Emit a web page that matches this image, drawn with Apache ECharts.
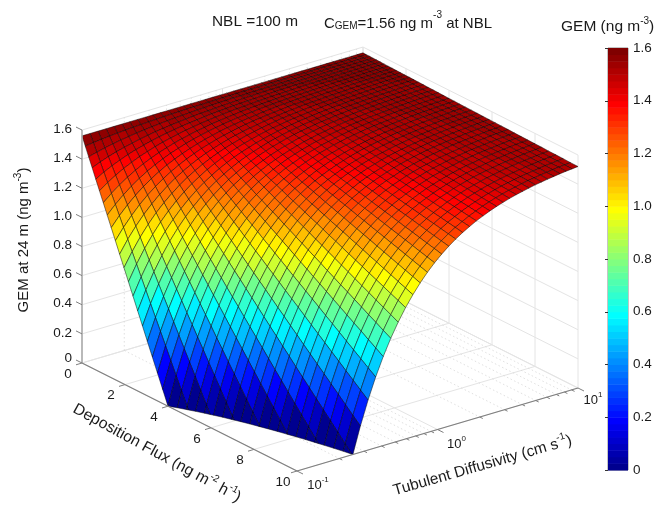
<!DOCTYPE html>
<html>
<head>
<meta charset="utf-8">
<style>html,body{margin:0;padding:0;background:#fff}#c{width:658px;height:505px}</style>
<script src="https://cdn.jsdelivr.net/npm/echarts@6/dist/echarts.min.js"></script>
</head>
<body>
<div id="c"></div>
<script>
// Deposition flux values (ng m-2 h-1), one per mesh row
const fluxValues = [0,.1525,.31,.4725,.64,.8125,.99,1.1725,1.36,1.5525,1.75,1.9525,2.16,2.3725,2.59,2.8125,3.04,3.2725,3.51,3.7525,4,4.2525,4.51,4.7725,5.04,5.3125,5.59,5.8725,6.16,6.4525,6.75,7.0525,7.36,7.6725,7.99,8.3125,8.64,8.9725,9.31,9.6525,10];
// log10 of turbulent diffusivity (cm s-1), one per mesh column
const logDiffusivity = [-1,-.9422,-.8848,-.8278,-.7712,-.715,-.6592,-.6038,-.5488,-.4942,-.44,-.3862,-.3328,-.2798,-.2272,-.175,-.1232,-.0718,-.0208,.0298,.08,.1298,.1792,.2282,.2768,.325,.3728,.4202,.4672,.5138,.56,.6058,.6512,.6962,.7408,.785,.8288,.8722,.9152,.9578,1];
// GEM at 24 m (ng m-3): gemGrid[diffusivity index][flux index]. Rows stop once the surface is under the floor.
const gemGrid = [
[1.56,1.501,1.439,1.376,1.310,1.243,1.174,1.103,1.030,.955,.877,.799,.718,.635,.550,.463,.374,.284,.191,.097,0,-.098,-.199,-.301],
[1.56,1.508,1.454,1.399,1.342,1.283,1.222,1.160,1.096,1.030,.963,.893,.823,.750,.676,.600,.522,.443,.362,.279,.194,.108,.020,-.069,-.161,-.254],
[1.56,1.514,1.467,1.419,1.369,1.317,1.264,1.209,1.153,1.095,1.036,.976,.914,.850,.785,.718,.650,.581,.510,.437,.363,.288,.211,.132,.052,-.030,-.113,-.197,-.283],
[1.56,1.520,1.479,1.436,1.392,1.347,1.300,1.252,1.203,1.153,1.101,1.048,.993,.937,.880,.822,.762,.701,.639,.575,.510,.444,.377,.308,.238,.166,.093,.019,-.056,-.133,-.211,-.291],
[1.56,1.525,1.489,1.451,1.413,1.373,1.332,1.290,1.247,1.203,1.157,1.111,1.063,1.014,.964,.913,.860,.807,.752,.696,.639,.581,.522,.461,.400,.337,.273,.208,.142,.075,.006,-.063,-.134,-.206,-.279],
[1.56,1.529,1.497,1.464,1.431,1.396,1.360,1.323,1.285,1.246,1.206,1.165,1.123,1.080,1.036,.991,.945,.898,.850,.801,.751,.700,.648,.595,.540,.485,.429,.372,.314,.255,.194,.133,.071,.008,-.056,-.122,-.188,-.255],
[1.56,1.533,1.505,1.476,1.446,1.415,1.384,1.351,1.318,1.284,1.248,1.212,1.176,1.138,1.099,1.059,1.019,.977,.935,.892,.848,.803,.757,.710,.663,.614,.565,.515,.464,.411,.358,.305,.250,.194,.138,.080,.022,-.037,-.097,-.158,-.220],
[1.56,1.536,1.511,1.486,1.460,1.433,1.405,1.376,1.347,1.317,1.286,1.254,1.222,1.188,1.154,1.120,1.084,1.048,1.010,.972,.934,.894,.854,.813,.771,.728,.685,.640,.595,.550,.503,.456,.407,.358,.309,.258,.207,.155,.102,.048,-.006],
[1.56,1.539,1.517,1.495,1.472,1.448,1.423,1.398,1.372,1.346,1.318,1.291,1.262,1.233,1.203,1.172,1.140,1.108,1.076,1.042,1.008,.973,.938,.901,.864,.827,.789,.750,.710,.670,.628,.587,.544,.501,.457,.413,.368,.322,.275,.228,.18],
[1.56,1.541,1.522,1.502,1.482,1.461,1.440,1.417,1.394,1.371,1.347,1.322,1.297,1.271,1.245,1.218,1.190,1.162,1.133,1.103,1.073,1.042,1.011,.979,.947,.913,.880,.845,.810,.775,.739,.702,.664,.626,.588,.548,.509,.468,.427,.385,.343],
[1.56,1.544,1.527,1.509,1.491,1.473,1.454,1.434,1.414,1.393,1.372,1.350,1.328,1.305,1.282,1.258,1.234,1.209,1.183,1.157,1.130,1.103,1.076,1.047,1.019,.989,.960,.929,.898,.867,.835,.803,.770,.736,.702,.667,.632,.596,.560,.523,.486],
[1.56,1.546,1.531,1.515,1.499,1.483,1.466,1.449,1.431,1.413,1.394,1.375,1.355,1.335,1.314,1.293,1.272,1.249,1.227,1.204,1.180,1.156,1.132,1.107,1.082,1.056,1.030,1.003,.975,.948,.919,.891,.862,.832,.802,.771,.740,.709,.676,.644,.611],
[1.56,1.547,1.534,1.520,1.506,1.492,1.477,1.462,1.446,1.430,1.413,1.396,1.379,1.361,1.343,1.324,1.305,1.285,1.266,1.245,1.224,1.203,1.182,1.160,1.137,1.114,1.091,1.067,1.043,1.019,.994,.968,.942,.916,.890,.863,.835,.807,.779,.750,.721],
[1.56,1.549,1.537,1.525,1.512,1.500,1.486,1.473,1.459,1.445,1.430,1.415,1.400,1.384,1.368,1.351,1.334,1.317,1.299,1.281,1.263,1.244,1.225,1.205,1.186,1.165,1.145,1.124,1.102,1.081,1.058,1.036,1.013,.990,.966,.942,.918,.893,.868,.843,.817],
[1.56,1.550,1.540,1.529,1.518,1.507,1.495,1.483,1.471,1.458,1.445,1.432,1.418,1.404,1.390,1.375,1.360,1.345,1.329,1.313,1.297,1.280,1.263,1.246,1.228,1.210,1.192,1.174,1.155,1.135,1.116,1.096,1.076,1.055,1.034,1.013,.991,.970,.947,.925,.902],
[1.56,1.551,1.542,1.532,1.523,1.513,1.502,1.492,1.481,1.469,1.458,1.446,1.434,1.421,1.409,1.396,1.382,1.369,1.355,1.341,1.326,1.312,1.297,1.281,1.266,1.250,1.234,1.217,1.200,1.183,1.166,1.148,1.130,1.112,1.093,1.075,1.055,1.036,1.016,.996,.976],
[1.56,1.552,1.544,1.536,1.527,1.518,1.509,1.499,1.490,1.480,1.469,1.459,1.448,1.437,1.426,1.414,1.403,1.390,1.378,1.366,1.353,1.340,1.326,1.313,1.299,1.285,1.270,1.256,1.241,1.226,1.210,1.195,1.179,1.163,1.146,1.129,1.112,1.095,1.078,1.060,1.042],
[1.56,1.553,1.546,1.538,1.531,1.523,1.514,1.506,1.497,1.489,1.479,1.470,1.461,1.451,1.441,1.431,1.420,1.409,1.399,1.387,1.376,1.364,1.353,1.340,1.328,1.316,1.303,1.290,1.277,1.263,1.249,1.236,1.221,1.207,1.192,1.178,1.163,1.147,1.132,1.116,1.100],
[1.56,1.554,1.547,1.541,1.534,1.527,1.520,1.512,1.504,1.497,1.488,1.480,1.472,1.463,1.454,1.445,1.436,1.426,1.416,1.407,1.396,1.386,1.376,1.365,1.354,1.343,1.331,1.320,1.308,1.296,1.284,1.272,1.259,1.246,1.233,1.220,1.207,1.193,1.179,1.165,1.151],
[1.56,1.554,1.549,1.543,1.537,1.530,1.524,1.517,1.510,1.503,1.496,1.489,1.481,1.474,1.466,1.458,1.449,1.441,1.432,1.423,1.414,1.405,1.396,1.386,1.377,1.367,1.357,1.346,1.336,1.325,1.314,1.303,1.292,1.281,1.269,1.257,1.246,1.233,1.221,1.209,1.196],
[1.56,1.555,1.550,1.545,1.539,1.534,1.528,1.522,1.516,1.510,1.503,1.497,1.490,1.483,1.476,1.469,1.462,1.454,1.446,1.438,1.430,1.422,1.414,1.405,1.397,1.388,1.379,1.370,1.360,1.351,1.341,1.331,1.322,1.311,1.301,1.291,1.280,1.269,1.258,1.247,1.236],
[1.56,1.556,1.551,1.546,1.542,1.537,1.531,1.526,1.521,1.515,1.509,1.504,1.498,1.491,1.485,1.479,1.472,1.465,1.459,1.452,1.444,1.437,1.430,1.422,1.414,1.406,1.398,1.390,1.382,1.374,1.365,1.356,1.347,1.338,1.329,1.320,1.310,1.301,1.291,1.281,1.271],
[1.56,1.556,1.552,1.548,1.543,1.539,1.534,1.530,1.525,1.520,1.515,1.510,1.504,1.499,1.493,1.487,1.482,1.476,1.469,1.463,1.457,1.450,1.444,1.437,1.430,1.423,1.416,1.408,1.401,1.394,1.386,1.378,1.370,1.362,1.354,1.346,1.337,1.329,1.320,1.311,1.302],
[1.56,1.556,1.553,1.549,1.545,1.541,1.537,1.533,1.529,1.524,1.520,1.515,1.510,1.505,1.500,1.495,1.490,1.484,1.479,1.473,1.468,1.462,1.456,1.450,1.444,1.437,1.431,1.424,1.418,1.411,1.404,1.397,1.390,1.383,1.375,1.368,1.360,1.353,1.345,1.337,1.329],
[1.56,1.557,1.554,1.550,1.547,1.543,1.540,1.536,1.532,1.528,1.524,1.520,1.516,1.511,1.507,1.502,1.497,1.493,1.488,1.483,1.478,1.472,1.467,1.462,1.456,1.451,1.445,1.439,1.433,1.427,1.421,1.415,1.408,1.402,1.395,1.389,1.382,1.375,1.368,1.361,1.354],
[1.56,1.557,1.554,1.551,1.548,1.545,1.542,1.538,1.535,1.531,1.528,1.524,1.520,1.516,1.512,1.508,1.504,1.499,1.495,1.491,1.486,1.481,1.477,1.472,1.467,1.462,1.457,1.451,1.446,1.441,1.435,1.430,1.424,1.418,1.412,1.406,1.400,1.394,1.388,1.381,1.375],
[1.56,1.557,1.555,1.552,1.549,1.547,1.544,1.541,1.538,1.534,1.531,1.528,1.524,1.521,1.517,1.514,1.510,1.506,1.502,1.498,1.494,1.490,1.486,1.481,1.477,1.472,1.468,1.463,1.458,1.454,1.449,1.444,1.439,1.433,1.428,1.423,1.417,1.412,1.406,1.401,1.395],
[1.56,1.558,1.555,1.553,1.551,1.548,1.545,1.543,1.540,1.537,1.534,1.531,1.528,1.525,1.522,1.518,1.515,1.512,1.508,1.504,1.501,1.497,1.493,1.489,1.485,1.481,1.477,1.473,1.469,1.465,1.460,1.456,1.451,1.446,1.442,1.437,1.432,1.427,1.422,1.417,1.412],
[1.56,1.558,1.556,1.554,1.551,1.549,1.547,1.544,1.542,1.539,1.537,1.534,1.531,1.528,1.526,1.523,1.520,1.516,1.513,1.510,1.507,1.503,1.500,1.497,1.493,1.489,1.486,1.482,1.478,1.474,1.470,1.466,1.462,1.458,1.454,1.449,1.445,1.441,1.436,1.432,1.427],
[1.56,1.558,1.556,1.554,1.552,1.550,1.548,1.546,1.544,1.542,1.539,1.537,1.534,1.532,1.529,1.527,1.524,1.521,1.518,1.515,1.512,1.509,1.506,1.503,1.500,1.497,1.493,1.490,1.487,1.483,1.480,1.476,1.472,1.469,1.465,1.461,1.457,1.453,1.449,1.445,1.441],
[1.56,1.558,1.557,1.555,1.553,1.551,1.549,1.547,1.545,1.543,1.541,1.539,1.537,1.535,1.532,1.530,1.527,1.525,1.522,1.520,1.517,1.514,1.512,1.509,1.506,1.503,1.500,1.497,1.494,1.491,1.488,1.485,1.481,1.478,1.475,1.471,1.468,1.464,1.460,1.457,1.453],
[1.56,1.559,1.557,1.555,1.554,1.552,1.550,1.549,1.547,1.545,1.543,1.541,1.539,1.537,1.535,1.533,1.531,1.528,1.526,1.524,1.521,1.519,1.516,1.514,1.511,1.508,1.506,1.503,1.500,1.497,1.495,1.492,1.489,1.486,1.482,1.479,1.476,1.473,1.470,1.466,1.463],
[1.56,1.559,1.557,1.556,1.554,1.553,1.551,1.550,1.548,1.546,1.545,1.543,1.541,1.539,1.537,1.536,1.534,1.532,1.529,1.527,1.525,1.523,1.521,1.518,1.516,1.514,1.511,1.509,1.506,1.504,1.501,1.499,1.496,1.493,1.491,1.488,1.485,1.482,1.479,1.476,1.473],
[1.56,1.559,1.558,1.556,1.555,1.554,1.552,1.551,1.549,1.548,1.546,1.545,1.543,1.541,1.540,1.538,1.536,1.534,1.533,1.531,1.529,1.527,1.525,1.523,1.521,1.519,1.516,1.514,1.512,1.510,1.507,1.505,1.503,1.500,1.498,1.495,1.493,1.490,1.487,1.485,1.482],
[1.56,1.559,1.558,1.557,1.555,1.554,1.553,1.552,1.550,1.549,1.548,1.546,1.545,1.543,1.542,1.540,1.538,1.537,1.535,1.533,1.532,1.530,1.528,1.526,1.524,1.522,1.520,1.518,1.516,1.514,1.512,1.510,1.508,1.506,1.503,1.501,1.499,1.496,1.494,1.491,1.489],
[1.56,1.559,1.558,1.557,1.556,1.555,1.554,1.552,1.551,1.550,1.549,1.548,1.546,1.545,1.543,1.542,1.541,1.539,1.538,1.536,1.534,1.533,1.531,1.529,1.528,1.526,1.524,1.522,1.521,1.519,1.517,1.515,1.513,1.511,1.509,1.507,1.505,1.503,1.500,1.498,1.496],
[1.56,1.559,1.558,1.557,1.556,1.555,1.554,1.553,1.552,1.551,1.550,1.549,1.547,1.546,1.545,1.544,1.542,1.541,1.540,1.538,1.537,1.535,1.534,1.532,1.531,1.529,1.528,1.526,1.524,1.523,1.521,1.519,1.517,1.515,1.514,1.512,1.510,1.508,1.506,1.504,1.502],
[1.56,1.559,1.558,1.558,1.557,1.556,1.555,1.554,1.553,1.552,1.551,1.550,1.549,1.548,1.547,1.545,1.544,1.543,1.542,1.540,1.539,1.538,1.537,1.535,1.534,1.532,1.531,1.529,1.528,1.526,1.525,1.523,1.522,1.520,1.518,1.517,1.515,1.513,1.512,1.510,1.508],
[1.56,1.559,1.559,1.558,1.557,1.556,1.555,1.554,1.554,1.553,1.552,1.551,1.550,1.549,1.548,1.547,1.546,1.545,1.544,1.542,1.541,1.540,1.539,1.538,1.536,1.535,1.534,1.532,1.531,1.530,1.528,1.527,1.525,1.524,1.522,1.521,1.519,1.518,1.516,1.515,1.513],
[1.56,1.559,1.559,1.558,1.557,1.557,1.556,1.555,1.554,1.553,1.552,1.552,1.551,1.550,1.549,1.548,1.547,1.546,1.545,1.544,1.543,1.542,1.541,1.539,1.538,1.537,1.536,1.535,1.534,1.532,1.531,1.530,1.528,1.527,1.526,1.524,1.523,1.521,1.520,1.518,1.517],
[1.56,1.559,1.559,1.558,1.558,1.557,1.556,1.555,1.555,1.554,1.553,1.552,1.552,1.551,1.550,1.549,1.548,1.547,1.546,1.545,1.544,1.543,1.542,1.541,1.540,1.539,1.538,1.537,1.536,1.535,1.534,1.532,1.531,1.530,1.529,1.528,1.526,1.525,1.524,1.522,1.521]
];
// Axis ticks
const zTicks = [0,.2,.4,.6,.8,1,1.2,1.4,1.6];
const zTickLabels = ['0','0.2','0.4','0.6','0.8','1.0','1.2','1.4','1.6'];
const fluxTicks = [0,2,4,6,8,10];
const diffusivityMajorTicks = [-1,0,1];
const diffusivityMajorLabels = ['{m|10}{s|-1}','{m|10}{s|0}','{m|10}{s|1}'];
const diffusivityMinorTicks = [.2,.3,.4,.5,.6,.7,.8,.9,2,3,4,5,6,7,8,9];

const FONT = '"Liberation Sans", Arial, sans-serif';
const INK = '#1a1a1a';
const GRID = '#e4e4e4';

// Orthographic view of the box
const view = {ox:82, oy:363, fx:21.5, fy:10.8, tx:281, ty:-83, zy:145.6};
const logToT = v => (v + 1) / 2;
function project(F, t, z){ return [view.ox + F*view.fx + t*view.tx, view.oy + F*view.fy + t*view.ty - z*view.zy]; }

// MATLAB jet, 64 levels
function jet64(){
  const c = Array.from({length:64},()=>[0,0,0]), u=[];
  for(let k=1;k<=16;k++)u.push(k/16);
  for(let k=0;k<15;k++)u.push(1);
  for(let k=16;k>=1;k--)u.push(k/16);
  u.forEach((v,k)=>{
    const r=25+k,g=9+k,b=-7+k;
    if(r<=64)c[r-1][0]=v;
    if(g<=64)c[g-1][1]=v;
    if(b>=1)c[b-1][2]=v;
  });
  return c.map(a=>'rgb('+a.map(x=>Math.round(x*255)).join(',')+')');
}
const JET = jet64();
const CMAX = 1.6;
function colorOf(v){ return JET[Math.max(0,Math.min(63,Math.floor(v/CMAX*64)))]; }

// Surface cells, painted from the far corner to the near one
const cells = [];
for(let j=gemGrid.length-1;j>=1;j--){
  for(let i=0;i<fluxValues.length-1;i++){
    if(gemGrid[j-1][i+1]!==undefined && gemGrid[j][i+1]!==undefined) cells.push([j-1,i]);
  }
}
function clipFloor(vs){
  const out=[];
  for(let k=0;k<vs.length;k++){
    const a=vs[k], b=vs[(k+1)%vs.length];
    if(a[2]>=0) out.push(a);
    if((a[2]>=0)!==(b[2]>=0)){
      const s=a[2]/(a[2]-b[2]);
      out.push([a[0]+(b[0]-a[0])*s,a[1]+(b[1]-a[1])*s,0]);
    }
  }
  return out;
}
function renderCell(params, api){
  const j=api.value(0), i=api.value(1);
  const t0=logToT(logDiffusivity[j]), t1=logToT(logDiffusivity[j+1]);
  const F0=fluxValues[i], F1=fluxValues[i+1];
  const poly=clipFloor([
    [F0,t0,gemGrid[j][i]],[F1,t0,gemGrid[j][i+1]],
    [F1,t1,gemGrid[j+1][i+1]],[F0,t1,gemGrid[j+1][i]]]);
  if(poly.length<3) return null;
  return {type:'polygon',shape:{points:poly.map(v=>api.coord(project(v[0],v[1],v[2])))},
    style:{fill:colorOf(gemGrid[j][i]),stroke:'rgba(0,0,0,0.68)',lineWidth:0.7}};
}

function line(api,a,b,stroke,w,dash){
  const p=api.coord(a), q=api.coord(b);
  return {type:'line',shape:{x1:p[0],y1:p[1],x2:q[0],y2:q[1]},style:{stroke:stroke,lineWidth:w,lineDash:dash||null}};
}
const minorT = diffusivityMinorTicks.map(v=>logToT(Math.log10(v)));
const majorT = diffusivityMajorTicks.map(logToT);

function renderBackdrop(params, api){
  if(params.dataIndex!==0) return null;
  const c=[], Z=CMAX, FM=10, dot=[1.5,2.5];
  const L=(a,b,col,w,d)=>c.push(line(api,a,b,col,w,d));
  zTicks.forEach(z=>{
    L(project(0,0,z),project(0,1,z),GRID,1);
    L(project(0,1,z),project(FM,1,z),GRID,1);
  });
  fluxTicks.forEach(f=>{
    L(project(f,0,0),project(f,1,0),GRID,1);
    L(project(f,1,0),project(f,1,Z),GRID,1);
  });
  majorT.forEach(t=>{
    L(project(0,t,0),project(FM,t,0),GRID,1);
    L(project(0,t,0),project(0,t,Z),GRID,1);
  });
  minorT.forEach(t=>{
    L(project(0,t,0),project(FM,t,0),'#d8d8d8',0.8,dot);
    L(project(0,t,0),project(0,t,Z),'#d8d8d8',0.8,dot);
  });
  return {type:'group',children:c};
}
function txt(x,y,text,size,opt){
  opt=opt||{};
  return {type:'text',x:x,y:y,rotation:opt.rot||0,silent:true,style:{
    text:text,fill:INK,fontFamily:FONT,fontSize:size,
    align:opt.align||'center',verticalAlign:opt.va||'middle',rich:opt.rich||undefined}};
}
function richSet(size){
  const s=Math.round(size*0.64);
  return {
    m:{fontFamily:FONT,fontSize:size,fill:INK,lineHeight:size+3,verticalAlign:'bottom'},
    s:{fontFamily:FONT,fontSize:s,fill:INK,lineHeight:size+3,verticalAlign:'top'},
    b:{fontFamily:FONT,fontSize:s,fill:INK,lineHeight:size+6,verticalAlign:'bottom'}
  };
}
function renderAxes(params, api){
  if(params.dataIndex!==0) return null;
  const c=[], Z=CMAX, FM=10;
  const L=(a,b,col,w)=>c.push(line(api,a,b,col,w));
  const ZC='#ababab', AC='#7f7f7f';
  L(project(0,0,0),project(0,0,Z),ZC,1.6);
  L(project(0,0,0),project(FM,0,0),AC,1.2);
  L(project(FM,0,0),project(FM,1,0),AC,1.2);
  zTicks.forEach((z,k)=>{
    const p=project(0,0,z);
    L(p,[p[0]-6,p[1]-3],AC,1);
    const q=api.coord(p);
    c.push(txt(q[0]-10,q[1]+(z===0?-5:-1),zTickLabels[k],13.5,{align:'right'}));
  });
  fluxTicks.forEach(f=>{
    const p=project(f,0,0);
    L(p,[p[0]-6,p[1]+1.8],AC,1);
    const q=api.coord(p);
    c.push(txt(q[0]-14,q[1]+11,String(f),13.5));
  });
  majorT.forEach((t,k)=>{
    const p=project(FM,t,0);
    L(p,[p[0]+6,p[1]+3],AC,1);
    const q=api.coord(p);
    c.push(txt(q[0]+[21,19,15][k],q[1]+[13,13,11][k],diffusivityMajorLabels[k],13,{rich:richSet(13)}));
  });
  minorT.forEach(t=>{
    const p=project(FM,t,0);
    L(p,[p[0]+3,p[1]+1.5],AC,1);
  });
  // Axis titles
  c.push(txt(22,240,'{m|GEM at 24 m (ng m}{s|-3}{m|)}',15,{rot:Math.PI/2,rich:richSet(15)}));
  c.push(txt(157.5,452,'{m|Deposition Flux (ng m}{s|-2}{m| h}{s|-1}{m|)}',15.7,{rot:-0.5,rich:richSet(15.7)}));
  c.push(txt(482,464,'{m|Tubulent Diffusivity (cm s}{s|-1}{m|)}',15.4,{rot:0.28,rich:richSet(15.4)}));
  // Header texts
  c.push(txt(212,22,'NBL =100 m',15.4,{align:'left'}));
  c.push(txt(324,21,'{m|C}{b|GEM}{m|=1.56 ng m}{s|-3}{m| at NBL}',15,{align:'left',rich:richSet(15)}));
  c.push(txt(561,25,'{m|GEM (ng m}{s|-3}{m|)}',15.5,{align:'left',rich:richSet(15.5)}));
  return {type:'group',children:c};
}
// Colour bar levels
const barLevels = JET.map((_,k)=>k);
function renderBar(params, api){
  const k=api.value(0);
  const a=api.coord([0,(k+1)/64*CMAX]), b=api.coord([1,k/64*CMAX]);
  return {type:'rect',shape:{x:a[0],y:a[1],width:b[0]-a[0],height:b[1]-a[1]+0.5},style:{fill:JET[k]}};
}

const chart = echarts.init(document.getElementById('c'),null,{renderer:'canvas'});
chart.setOption({
  animation:false,
  backgroundColor:'#fff',
  tooltip:{show:false},
  grid:[
    {left:0,top:0,width:658,height:505,show:false},
    {left:608,top:48,width:20,height:422,show:true,borderColor:'#8a8a8a',borderWidth:1,backgroundColor:'transparent'}
  ],
  xAxis:[
    {gridIndex:0,type:'value',min:0,max:658,show:false},
    {gridIndex:1,type:'value',min:0,max:1,show:false}
  ],
  yAxis:[
    {gridIndex:0,type:'value',min:0,max:505,inverse:true,show:false},
    {gridIndex:1,type:'value',min:0,max:1.6,interval:.2,position:'right',
     axisLine:{show:false},splitLine:{show:false},
     axisTick:{show:true,inside:true,length:3,lineStyle:{color:'#333',width:1}},
     axisLabel:{margin:5,color:INK,fontFamily:FONT,fontSize:13.5,
       formatter:v=>{const k=zTicks.findIndex(t=>Math.abs(t-v)<1e-6);return k>=0?zTickLabels[k]:'';}}}
  ],
  series:[
    {type:'custom',name:'backdrop',xAxisIndex:0,yAxisIndex:0,data:[[0,0]],renderItem:renderBackdrop,silent:true,clip:false,z:1},
    {type:'custom',name:'GEM at 24 m',xAxisIndex:0,yAxisIndex:0,data:cells,encode:{x:0,y:1},renderItem:renderCell,silent:true,clip:false,progressive:0,z:2},
    {type:'custom',name:'axes',xAxisIndex:0,yAxisIndex:0,data:[[0,0]],renderItem:renderAxes,silent:true,clip:false,z:3},
    {type:'custom',name:'colour bar',xAxisIndex:1,yAxisIndex:1,data:barLevels.map(k=>[k]),encode:{y:0},renderItem:renderBar,silent:true,clip:false,progressive:0,z:1}
  ]
});
</script>
</body>
</html>
